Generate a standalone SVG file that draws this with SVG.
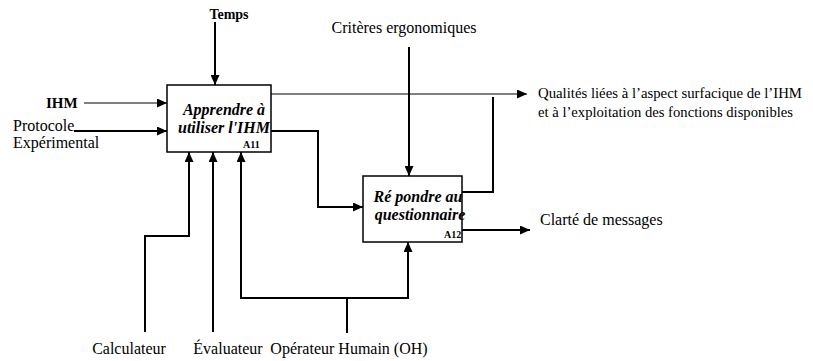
<svg xmlns="http://www.w3.org/2000/svg" width="813" height="361" viewBox="0 0 813 361">
<defs>
<marker id="ah" markerUnits="userSpaceOnUse" markerWidth="11" markerHeight="9" refX="10" refY="4.5" orient="auto">
<path d="M0,0 L10,4.5 L0,9 z" fill="#000"/>
</marker>
<style>
text{font-family:"Liberation Serif","Times New Roman",serif;fill:#000}
.lbl{font-size:16px}
.blbl{font-weight:bold}
.box{fill:#fff;stroke:#000;stroke-width:1.5}
.title{font-size:16px;font-weight:bold;font-style:italic}
.code{font-size:10px;font-weight:bold}
.c{fill:none;stroke:#000;stroke-width:2}
.thin{fill:none;stroke:#000;stroke-width:1}
</style>
</defs>
<rect width="813" height="361" fill="#fff"/>
<g id="connectors">
<path class="c" d="M215,22 V85" marker-end="url(#ah)"/>
<path class="thin" d="M84,103 H167" marker-end="url(#ah)"/>
<path class="c" d="M74,131 H167" marker-end="url(#ah)"/>
<path class="thin" d="M271,94 H527" marker-end="url(#ah)"/>
<path class="c" d="M271,131 H318 V207 H363" marker-end="url(#ah)"/>
<path class="c" d="M409,47 V176" marker-end="url(#ah)"/>
<path class="c" d="M462,192 H493 V97"/>
<path class="c" d="M462,230 H530" marker-end="url(#ah)"/>
<path class="c" d="M145,332 V236 H189 V152" marker-end="url(#ah)"/>
<path class="c" d="M213,332 V152" marker-end="url(#ah)"/>
<path class="c" d="M347,333 V298 H408 V242" marker-end="url(#ah)"/>
<path class="c" d="M347,298 H241 V152" marker-end="url(#ah)"/>
</g>
<g id="A11">
<rect class="box" x="167" y="85" width="104" height="67"/>
<text class="title" x="224" y="115" text-anchor="middle">Apprendre à</text>
<text class="title" x="224" y="133" text-anchor="middle">utiliser l'IHM</text>
<text class="code" x="243" y="148">A11</text>
</g>
<g id="A12">
<rect class="box" x="363" y="176" width="99" height="66"/>
<text class="title" x="418" y="202" text-anchor="middle">Ré pondre au</text>
<text class="title" x="420" y="220" text-anchor="middle">questionnaire</text>
<text class="code" x="444" y="238">A12</text>
</g>
<g id="labels">
<text class="lbl blbl" x="229" y="19" text-anchor="middle" style="font-size:14px">Temps</text>
<text class="lbl" x="404" y="33" text-anchor="middle">Critères ergonomiques</text>
<text class="lbl blbl" x="46" y="108" style="font-size:15px">IHM</text>
<text class="lbl" x="13" y="131">Protocole</text>
<text class="lbl" x="13" y="148">Expérimental</text>
<text class="lbl" x="538" y="98" style="font-size:15px" textLength="264" lengthAdjust="spacingAndGlyphs">Qualités liées à l’aspect surfacique de l’IHM</text>
<text class="lbl" x="538" y="117" style="font-size:15px" textLength="255" lengthAdjust="spacingAndGlyphs">et à l’exploitation des fonctions disponibles</text>
<text class="lbl" x="540" y="225">Clarté de messages</text>
<text class="lbl" x="129" y="354" text-anchor="middle">Calculateur</text>
<text class="lbl" x="228" y="354" text-anchor="middle">Évaluateur</text>
<text class="lbl" x="349" y="354" text-anchor="middle">Opérateur Humain (OH)</text>
</g>
</svg>
